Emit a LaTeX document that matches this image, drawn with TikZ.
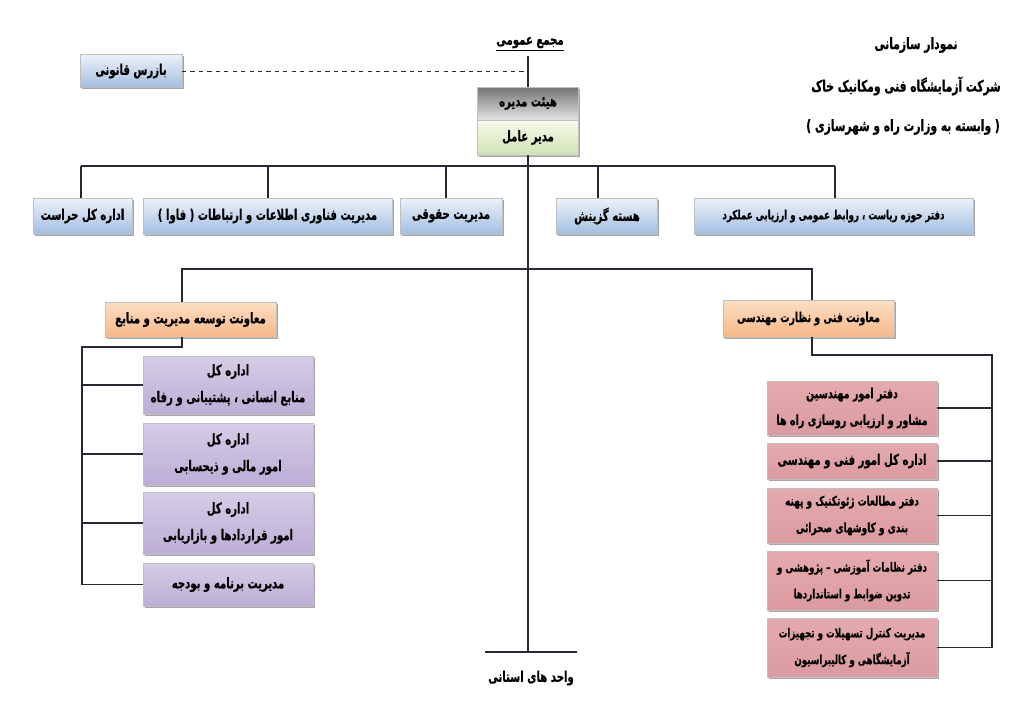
\documentclass[tikz,border=0pt]{standalone}
\usepackage{fontspec}
\newfontfamily\arabicfont[Script=Arabic, FakeStretch=0.686, BoldFeatures={FakeBold=0.6}]{DejaVu Sans}
\TeXXeTstate=1
\usetikzlibrary{shadows}
\newcommand\rl[1]{\beginR #1\endR}
\definecolor{linecol}{RGB}{40,40,50}
\definecolor{blueA}{RGB}{236,242,250}
\definecolor{blueB}{RGB}{163,190,224}
\definecolor{grayA}{RGB}{115,115,115}
\definecolor{grayB}{RGB}{228,228,228}
\definecolor{greenA}{RGB}{246,250,236}
\definecolor{greenB}{RGB}{208,226,176}
\definecolor{orangeA}{RGB}{252,222,194}
\definecolor{orangeB}{RGB}{246,184,136}
\definecolor{purpleA}{RGB}{214,205,230}
\definecolor{purpleM}{RGB}{244,241,248}
\definecolor{purpleB}{RGB}{188,174,214}
\definecolor{pinkA}{RGB}{228,170,174}
\definecolor{pinkM}{RGB}{246,226,227}
\definecolor{pinkB}{RGB}{219,155,160}

\begin{document}
\begin{tikzpicture}[
x=0.025cm, y=-0.025cm,
line width=0.9pt, draw=linecol,
every node/.style={font=\arabicfont\bfseries\fontsize{10.5}{19}\selectfont},
    box/.style = {rectangle, draw=black!25, line width=0.4pt, align=center,
                  inner sep=2pt, outer sep=0pt,% all boxes of the chart
                  drop shadow={shadow xshift=1.2pt, shadow yshift=-1.2pt,
                               opacity=0.35, fill=black}},
   BLUE/.style = {box, top color=blueA, bottom color=blueB},
   GRAY/.style = {box, top color=grayA, bottom color=grayB},
  GREEN/.style = {box, top color=greenA, bottom color=greenB},
 ORANGE/.style = {box, top color=orangeA, bottom color=orangeB},
 PURPLE/.style = {box, top color=purpleA, middle color=purpleM, bottom color=purpleB,
                  minimum width=170*0.025cm},
   PINK/.style = {box, top color=pinkA, middle color=pinkM, bottom color=pinkB,
                  minimum width=170*0.025cm},
  small/.style = {font=\arabicfont\bfseries\fontsize{9}{19}\selectfont},
  title/.style = {font=\arabicfont\bfseries\fontsize{11.1}{12}\selectfont},
                        ]
\useasboundingbox (0,0) rectangle (1024,723);
% titles
\node[title] (t1) at (916,45)  {\rl{نمودار سازمانی}};
\node[title] (t2) at (906,86)  {\rl{شرکت آزمایشگاه فنی ومکانیک خاک}};
\node[title] (t3) at (903,127) {\rl{( وابسته به وزارت راه و شهرسازی )}};
% top of the chart
\node (majma) at (530,44) {\underline{\rl{مجمع عمومی}}};
\node[BLUE, minimum width=102*0.025cm, minimum height=33*0.025cm] (bazras) at (131,71) {\rl{بازرس قانونی}};
\node[GRAY, minimum width=101*0.025cm, minimum height=33*0.025cm] (heyat) at (528,103.5) {\rl{هیئت مدیره}};
\node[GREEN, minimum width=101*0.025cm, minimum height=35*0.025cm, anchor=north] (modir) at (heyat.south) {\rl{مدیر عامل}};
\coordinate (dash) at (528,71);
\draw (majma.south -| dash) -- (heyat.north);
\draw[dashed, line width=0.6pt] (bazras.east) -- (dash);
% first row
\foreach \n/\x/\w/\t in {herasat/82.5/99/{اداره کل حراست},
                         fava/267.5/249/{مدیریت فناوری اطلاعات و ارتباطات ( فاوا )},
                         hoghoghi/451/102/{مدیریت حقوقی},
                         gozinesh/607/101/{هسته گزینش}}% <-- row of boxes
    \node[BLUE, minimum width=\w*0.025cm, minimum height=36*0.025cm] (\n) at (\x,216) {\rl{\t}};
\node[BLUE, small, minimum width=279*0.025cm, minimum height=36*0.025cm] (riasat) at (833.5,216) {\rl{دفتر حوزه ریاست ، روابط عمومی و ارزیابی عملکرد}};
\coordinate (b1l) at (81,166);
\coordinate (b1r) at (835,166);
\draw (b1l) -- (b1r);
\foreach \n/\d in {herasat/81, fava/268, hoghoghi/446, gozinesh/598, riasat/835}
    \draw (\n.north -| \d,0) -- (\d,166);
% trunk and provinces
\node (ostani) at (531,678) {\rl{واحد های استانی}};
\coordinate (bar) at (528,652);
\draw (modir.south) -- (bar);
\draw (bar) ++(-43,0) -- ++(92,0);
% deputies
\node[ORANGE, minimum width=171*0.025cm, minimum height=35*0.025cm] (tosee) at (190.5,319.5) {\rl{معاونت توسعه مدیریت و منابع}};
\node[ORANGE, minimum width=171*0.025cm, minimum height=37*0.025cm, font=\arabicfont\bfseries\fontsize{9.7}{19}\selectfont] (fanni) at (808.5,318.5) {\rl{معاونت فنی و نظارت مهندسی}};
\coordinate (b2l) at (182,269);
\coordinate (b2r) at (812,269);
\draw (tosee.north -| b2l) -- (b2l) -- (b2r) -- (fanni.north -| b2r);
% left branch
\node[PURPLE, minimum height=58*0.025cm] (p1) at (228,385) {\rl{اداره کل}\\\rl{منابع انسانی ، پشتیبانی و رفاه}};
\node[PURPLE, minimum height=62*0.025cm] (p2) at (228,454) {\rl{اداره کل}\\\rl{امور مالی و ذیحسابی}};
\node[PURPLE, minimum height=62*0.025cm] (p3) at (228,523) {\rl{اداره کل}\\\rl{امور قراردادها و بازاریابی}};
\node[PURPLE, minimum height=43*0.025cm] (p4) at (228,584.5) {\rl{مدیریت برنامه و بودجه}};
\coordinate (ls) at (82,347);
\draw (tosee.south -| b2l) |- (ls) -- (ls |- p4.west);
\foreach \i in {1,...,4}
    \draw (p\i.west) -- (p\i.west -| ls);
% right branch
\node[PINK, minimum height=54*0.025cm, font=\arabicfont\bfseries\fontsize{9.9}{19}\selectfont] (r1) at (852,408) {\rl{دفتر امور مهندسین}\\\rl{مشاور و ارزیابی روسازی راه ها}};
\node[PINK, minimum height=36*0.025cm] (r2) at (852,461) {\rl{اداره کل امور فنی و مهندسی}};
\node[PINK, minimum height=55*0.025cm, font=\arabicfont\bfseries\fontsize{9.3}{19}\selectfont] (r3) at (852,515.5) {\rl{دفتر مطالعات ژئوتکنیک و پهنه}\\\rl{بندی و کاوشهای صحرائی}};
\node[PINK, small, minimum height=59*0.025cm] (r4) at (852,580.5) {\rl{دفتر نظامات آموزشی – پژوهشی و}\\\rl{تدوین ضوابط و استانداردها}};
\node[PINK, small, minimum height=59*0.025cm] (r5) at (852,647.5) {\rl{مدیریت کنترل تسهیلات و تجهیزات}\\\rl{آزمایشگاهی و کالیبراسیون}};
\coordinate (rs) at (992,355);
\draw (fanni.south -| b2r) |- (rs) -- (rs |- r5.east);
\foreach \i in {1,...,5}
    \draw (r\i.east) -- (r\i.east -| rs);
\end{tikzpicture}
\end{document}
